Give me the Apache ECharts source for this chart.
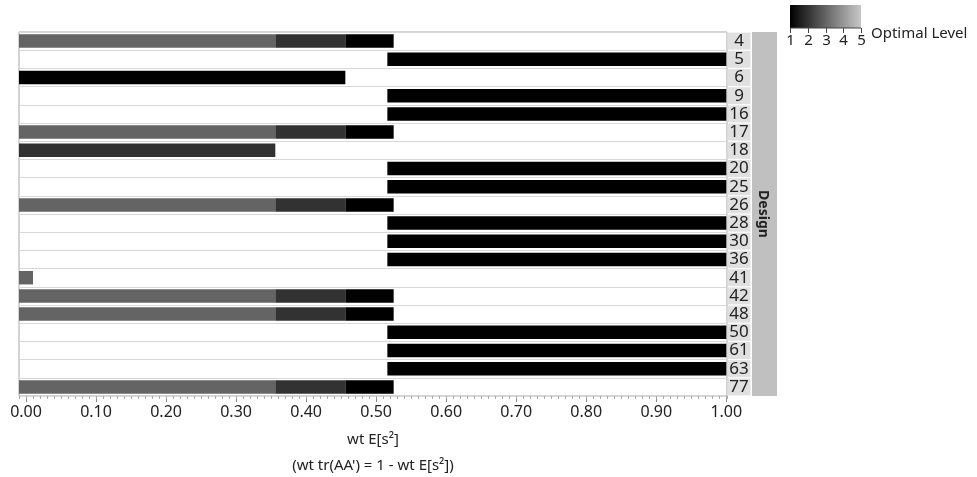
<!DOCTYPE html>
<html>
<head>
<meta charset="utf-8">
<script src="https://cdn.jsdelivr.net/npm/echarts@6/dist/echarts.min.js"></script>
<style>
  html, body { margin: 0; padding: 0; background: #fff; }
  #chart { width: 977px; height: 477px; }
</style>
</head>
<body>
<div id="chart"></div>
<script>
// rows, top to bottom
const designs = ['4', '5', '6', '9', '16', '17', '18', '20', '25', '26', '28', '30', '36', '41', '42', '48', '50', '61', '63', '77']
// segment lengths per row, stacked left to right: blank, level 3, level 2, level 1
const blankLen = [0, 0.516, 0, 0.516, 0.516, 0, 0, 0.516, 0.516, 0, 0.516, 0.516, 0.516, 0, 0, 0, 0.516, 0.516, 0.516, 0]
const level3Len = [0.356, 0, 0, 0, 0, 0.356, 0, 0, 0, 0.356, 0, 0, 0, 0.01, 0.356, 0.356, 0, 0, 0, 0.356]
const level2Len = [0.1, 0, 0, 0, 0, 0.1, 0.356, 0, 0, 0.1, 0, 0, 0, 0, 0.1, 0.1, 0, 0, 0, 0.1]
const level1Len = [0.069, 0.484, 0.456, 0.484, 0.484, 0.069, 0, 0.484, 0.484, 0.069, 0.484, 0.484, 0.484, 0, 0.069, 0.069, 0.484, 0.484, 0.484, 0.069]
const levels = [1, 2, 3, 4, 5]
const tickValues = [0, 0.1, 0.2, 0.3, 0.4, 0.5, 0.6, 0.7, 0.8, 0.9, 1.0]

const stackOrder = [
  { len: blankLen, level: null },
  { len: level3Len, level: 3 },
  { len: level2Len, level: 2 },
  { len: level1Len, level: 1 }
]

// build [row, start, end, level] items
const segments = []
designs.forEach((d, i) => {
  let x = 0
  stackOrder.forEach(s => {
    const v = s.len[i]
    if (v > 0 && s.level !== null) segments.push([i, x, x + v, s.level])
    x += v
  })
})

const xMin = -0.01
const xMax = 1.001
const textColor = '#222'
const font = 'Noto Sans'

// legend geometry
const legX = 790, legY = 5, legW = 71, legH = 23
const legendGraphic = [
  {
    type: 'rect',
    shape: { x: legX, y: legY, width: legW, height: legH },
    style: {
      fill: new echarts.graphic.LinearGradient(0, 0, 1, 0, [
        { offset: 0, color: '#000000' },
        { offset: 1, color: '#c8c8c8' }
      ])
    }
  },
  {
    type: 'line',
    shape: { x1: legX, y1: legY + legH, x2: legX + legW, y2: legY + legH },
    style: { stroke: '#444', lineWidth: 1 }
  },
  {
    type: 'text',
    style: { text: 'Optimal Level', x: 871, y: 34, fill: textColor, font: '15px "Noto Sans"', verticalAlign: 'middle' }
  },
  {
    type: 'rect',
    shape: { x: 752, y: 32, width: 25, height: 364 },
    style: { fill: '#c0c0c0' },
    z: -1
  }
]
levels.forEach((l, k) => {
  const x = Math.round(legX + k * legW / (levels.length - 1)) + 0.5
  legendGraphic.push({
    type: 'line',
    shape: { x1: x, y1: legY + legH, x2: x, y2: legY + legH + 5 },
    style: { stroke: '#444', lineWidth: 1 }
  })
  legendGraphic.push({
    type: 'text',
    style: { text: String(l), x: x, y: 41, fill: textColor, font: '15px "Noto Sans"', align: 'center', verticalAlign: 'middle' }
  })
})

const chart = echarts.init(document.getElementById('chart'))

const option = {
  animation: false,
  textStyle: { fontFamily: font },
  grid: {
    left: 19,
    top: 32,
    width: 708,
    height: 364,
    outerBoundsMode: 'none',
    containLabel: false,
    show: true,
    backgroundColor: '#fff',
    borderColor: '#a8a8a8',
    borderWidth: 1
  },
  visualMap: {
    show: false,
    type: 'continuous',
    dimension: 3,
    min: 1,
    max: 5,
    seriesIndex: 0,
    inRange: { color: ['#000000', '#c8c8c8'] }
  },
  xAxis: [
    {
      type: 'value',
      position: 'bottom',
      min: xMin,
      max: xMax,
      axisLine: { show: false },
      splitLine: { show: false },
      axisTick: { show: true, customValues: tickValues, length: 6, lineStyle: { color: '#888' } },
      axisLabel: {
        customValues: tickValues,
        formatter: v => v.toFixed(2),
        color: textColor,
        fontSize: 16,
        margin: 8
      },
      name: 'wt E[s²]\n(wt tr(AA\') = 1 - wt E[s²])',
      nameLocation: 'middle',
      nameGap: 31,
      nameTextStyle: { color: textColor, fontSize: 15, lineHeight: 26 }
    },
    {
      type: 'value',
      position: 'bottom',
      min: xMin,
      max: xMax,
      interval: 0.01,
      axisLine: { show: false },
      splitLine: { show: false },
      axisLabel: { show: false },
      axisTick: { show: true, length: 3, lineStyle: { color: '#aaa' } }
    }
  ],
  yAxis: {
    type: 'category',
    data: designs,
    inverse: true,
    position: 'right',
    axisLine: { show: false },
    axisTick: { show: false },
    splitLine: { show: true, interval: 0, lineStyle: { color: '#d8d8d8', width: 1 } },
    axisLabel: {
      interval: 0,
      margin: 12,
      align: 'center',
      width: 23,
      lineHeight: 17,
      backgroundColor: '#e0e0e0',
      color: textColor,
      fontSize: 17
    },
    name: 'Design',
    nameLocation: 'middle',
    nameRotate: -90,
    nameGap: 36,
    nameMoveOverlap: false,
    nameTextStyle: { color: '#222', fontSize: 14, fontWeight: 'bold', align: 'center', verticalAlign: 'middle' }
  },
  graphic: legendGraphic,
  series: [
    {
      type: 'custom',
      xAxisIndex: 0,
      encode: { x: [1, 2], y: 0 },
      data: segments,
      renderItem: (params, api) => {
        const row = api.value(0)
        const s = api.value(1)
        const e = api.value(2)
        const p0 = api.coord([s, row])
        const p1 = api.coord([e, row])
        const h = api.size([0, 1])[1] * 0.74
        const x0 = s <= 0 ? params.coordSys.x : p0[0]
        return {
          type: 'rect',
          shape: { x: x0, y: p0[1] - h / 2, width: p1[0] - x0, height: h },
          style: { fill: api.visual('color') }
        }
      }
    }
  ]
}

chart.setOption(option)
</script>
</body>
</html>
